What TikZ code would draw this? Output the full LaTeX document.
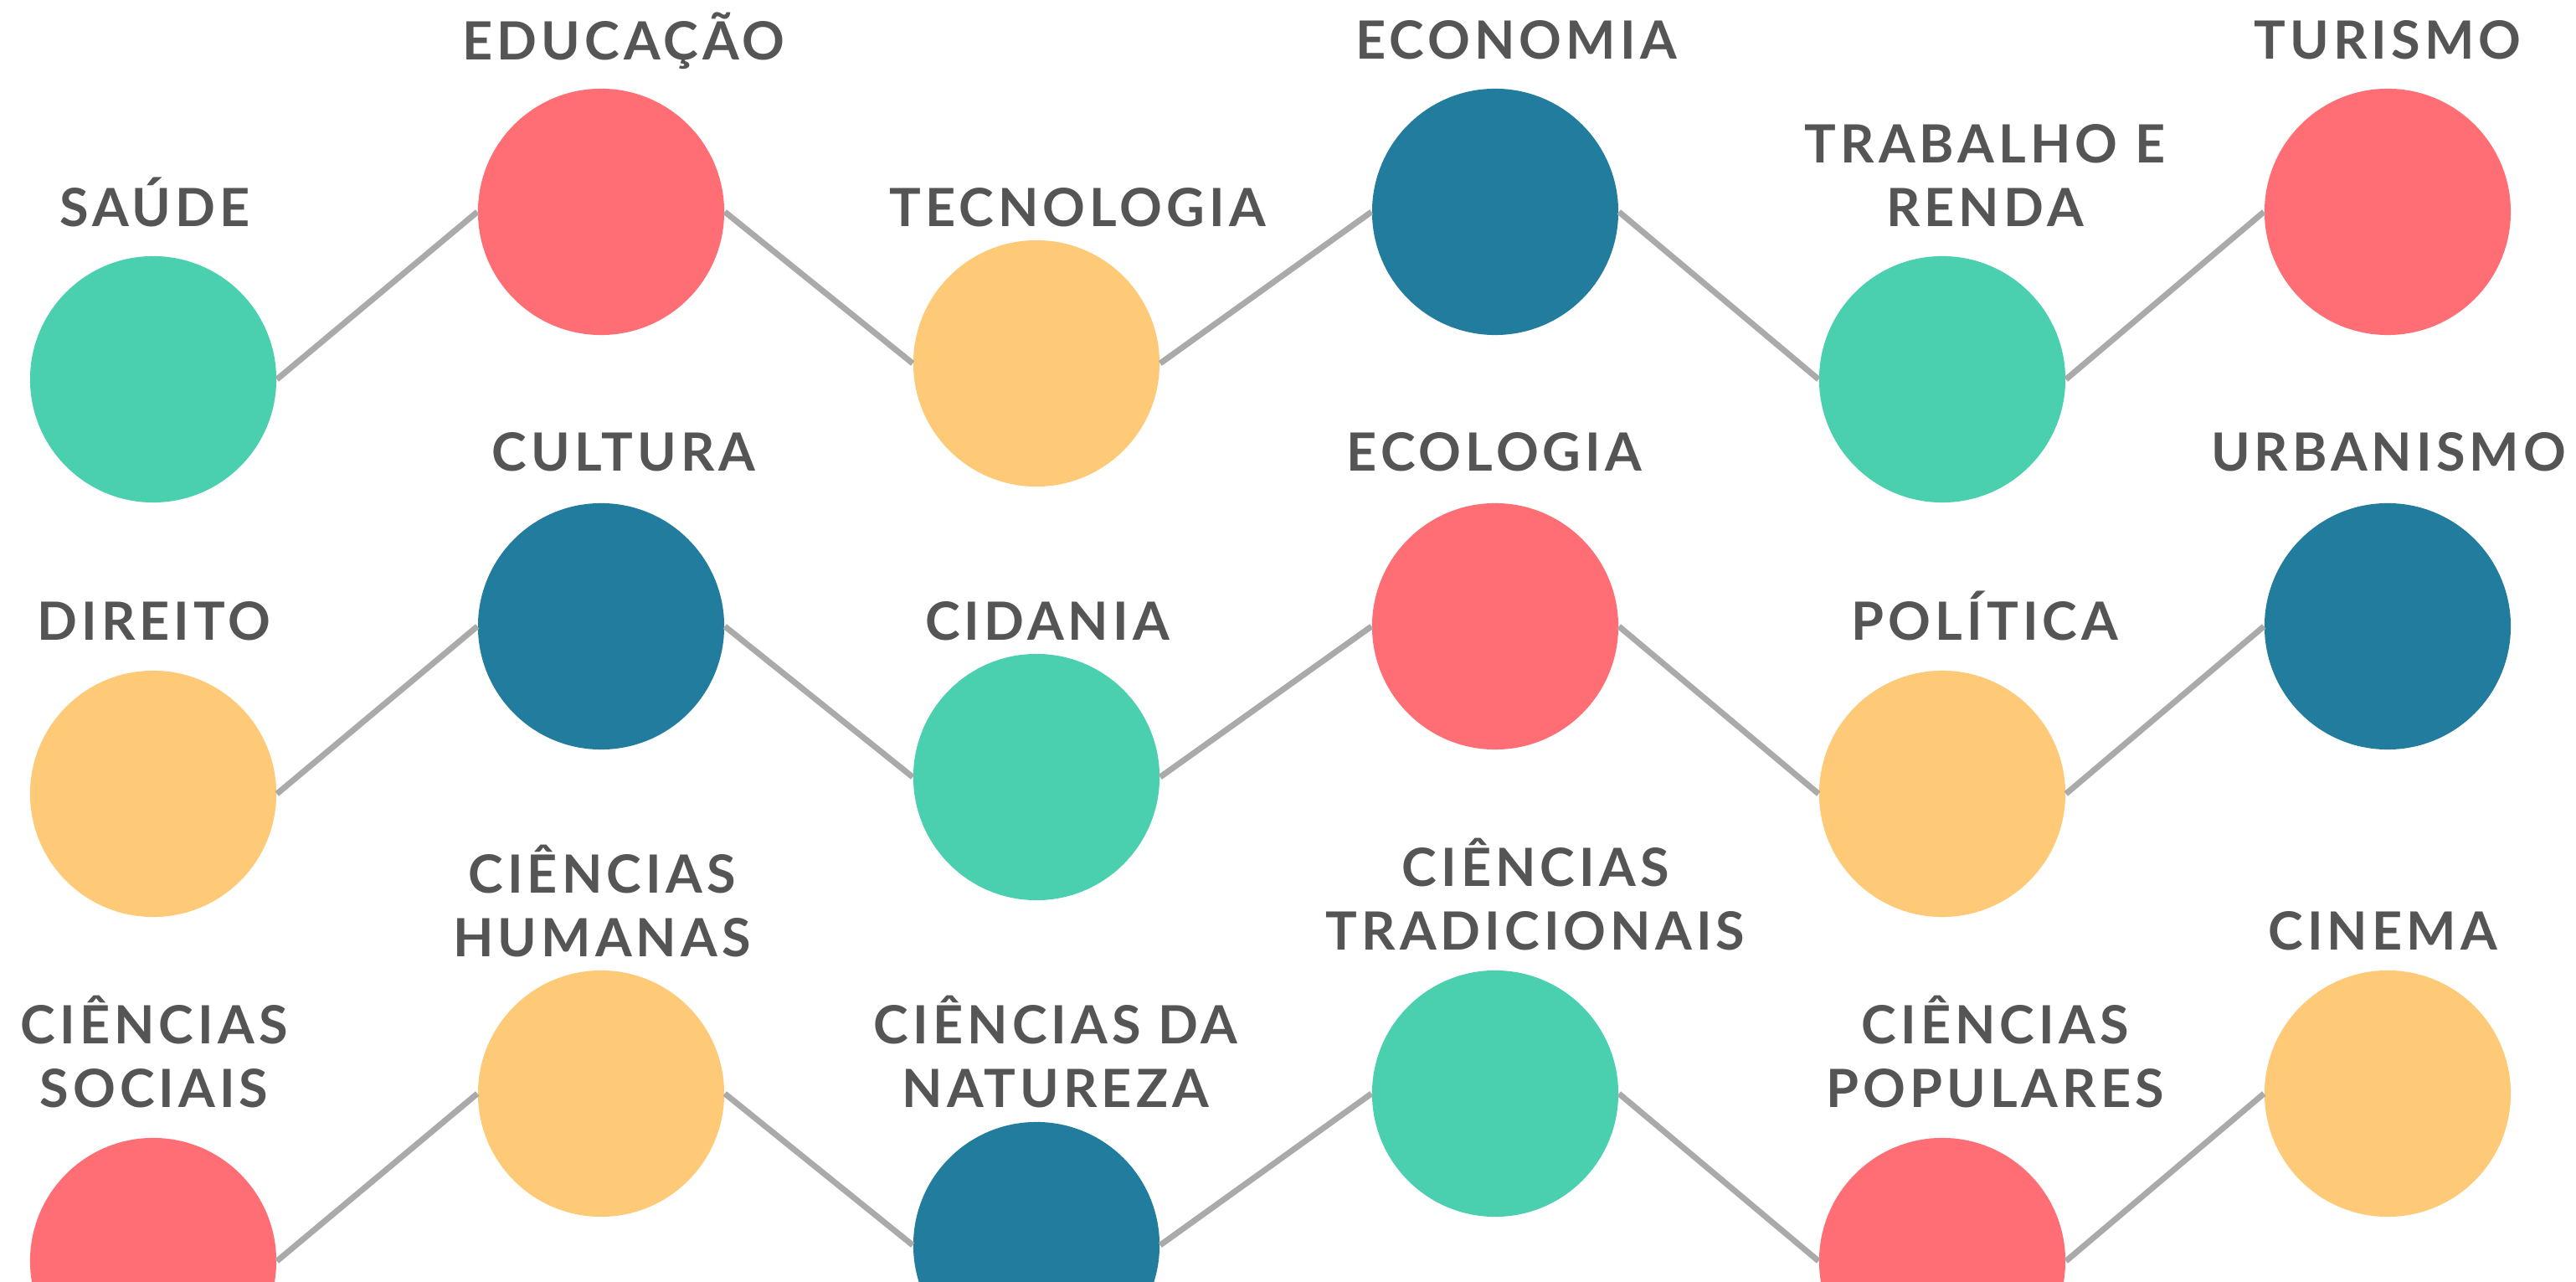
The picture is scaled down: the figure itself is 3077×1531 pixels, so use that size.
\documentclass[tikz,border=0pt]{standalone}
\usepackage{fontspec}
\usepackage{tikz}
\newfontfamily\tagfont[LetterSpace=8]{Lato}
\definecolor{mint}{HTML}{4ACFAF}
\definecolor{coral}{HTML}{FF6E74}
\definecolor{sand}{HTML}{FECA78}
\definecolor{petrol}{HTML}{227C9D}
\definecolor{ink}{HTML}{555555}
\definecolor{wire}{HTML}{AAAAAA}

\begin{document}
\begin{tikzpicture}[x=0.01cm,y=-0.01cm,
  dot/.style={circle,fill=#1,minimum size=2.94cm,inner sep=0pt},
  tag/.style={font=\tagfont\bfseries\fontsize{17.9}{21.6}\selectfont,text=ink,align=center,
    anchor=south,inner sep=0pt,text depth=0pt},
  link/.style={wire,line width=2pt}]
  \useasboundingbox (0,0) rectangle (3077,1531);
  \clip (0,0) rectangle (3077,1531);
  \foreach \n/\x/\y/\c in {saude/183/453/mint,educacao/718/253/coral,tecnologia/1238/434/sand,
      economia/1786/253/petrol,trabalho/2320/453/mint,turismo/2852/253/coral,
      direito/183/948/sand,cultura/718/748/petrol,cidadania/1238/928/mint,
      ecologia/1786/748/coral,politica/2320/948/sand,urbanismo/2852/748/petrol,
      sociais/183/1506/coral,humanas/718/1306/sand,natureza/1238/1487/petrol,
      tradicionais/1786/1306/mint,populares/2320/1506/coral,cinema/2852/1306/sand}
    \node[dot=\c] (\n) at (\x,\y) {};
  \node[tag] (saude-tag) at (185,271) {SAÚDE};
  \node[tag] (educacao-tag) at (745,72) {EDUCAÇÃO};
  \node[tag] (tecnologia-tag) at (1287,271) {TECNOLOGIA};
  \node[tag] (economia-tag) at (1811,71) {ECONOMIA};
  \node[tag] (trabalho-tag) at (2371,271) {TRABALHO E\\RENDA};
  \node[tag] (turismo-tag) at (2852,71) {TURISMO};
  \node[tag] (direito-tag) at (184,765) {DIREITO};
  \node[tag] (cultura-tag) at (745,563) {CULTURA};
  \node[tag] (cidadania-tag) at (1251,765) {CIDANIA};
  \node[tag] (ecologia-tag) at (1785,563) {ECOLOGIA};
  \node[tag] (politica-tag) at (2371,765) {POLÍTICA};
  \node[tag] (urbanismo-tag) at (2853,563) {URBANISMO};
  \node[tag] (sociais-tag) at (184,1323) {CIÊNCIAS\\SOCIAIS};
  \node[tag] (humanas-tag) at (719,1143) {CIÊNCIAS\\HUMANAS};
  \node[tag] (natureza-tag) at (1261,1323) {CIÊNCIAS DA\\NATUREZA};
  \node[tag] (tradicionais-tag) at (1834,1135) {CIÊNCIAS\\TRADICIONAIS};
  \node[tag] (populares-tag) at (2383,1323) {CIÊNCIAS\\POPULARES};
  \node[tag] (cinema-tag) at (2846,1135) {CINEMA};
  \foreach \a/\b in {saude/educacao,educacao/tecnologia,tecnologia/economia,economia/trabalho,trabalho/turismo,
      direito/cultura,cultura/cidadania,cidadania/ecologia,ecologia/politica,politica/urbanismo,
      sociais/humanas,humanas/natureza,natureza/tradicionais,tradicionais/populares,populares/cinema}
    \draw[link] (\a.east) -- (\b.west);
\end{tikzpicture}
\end{document}
